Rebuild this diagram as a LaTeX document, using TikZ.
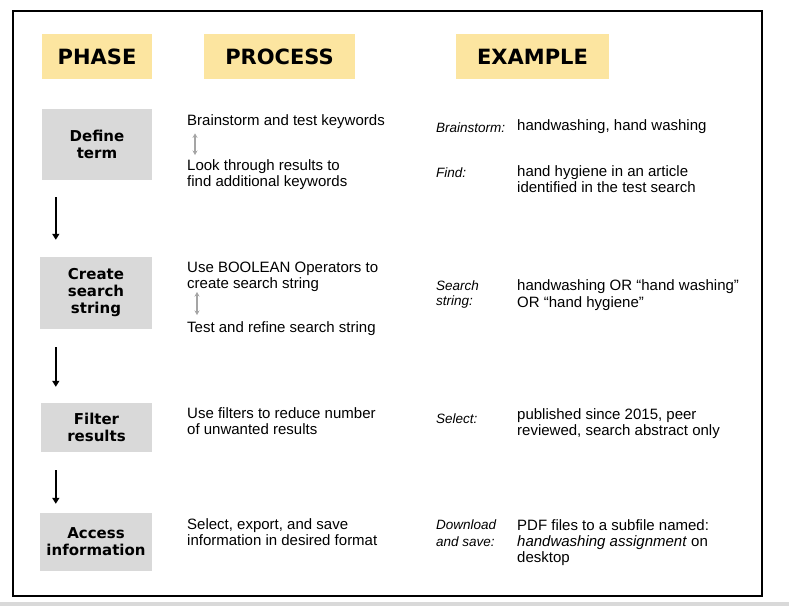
\documentclass[tikz,border=0pt]{standalone}
\usepackage{fontspec}
\setmainfont{Liberation Sans}
\newfontfamily\heavyfont{DejaVu Sans}
\usetikzlibrary{arrows.meta}
\definecolor{hdryellow}{RGB}{252,229,160}
\definecolor{boxgray}{RGB}{217,217,217}
\definecolor{arrgray}{RGB}{165,165,165}
\begin{document}
\begin{tikzpicture}[x=1pt,y=-1pt,
  hdr/.style={fill=hdryellow, inner sep=0pt, font=\heavyfont\bfseries\fontsize{21}{24}\selectfont, minimum height=45pt},
  phasebox/.style={fill=boxgray, inner sep=0pt, align=center, font=\heavyfont\bfseries\fontsize{15}{17}\selectfont},
  txt/.style={anchor=north west, inner sep=0pt, align=left, font=\fontsize{15}{16}\selectfont},
  lbl/.style={anchor=north west, inner sep=0pt, align=left, font=\itshape\fontsize{13.5}{16}\selectfont},
  flowarrow/.style={line width=1.8pt, -{Triangle[length=6pt,width=7pt]}},
  swaparrow/.style={line width=1.6pt, arrgray, {Stealth[length=4.5pt,width=5pt]}-{Stealth[length=4.5pt,width=5pt]}}
]
\useasboundingbox (0,0) rectangle (789,606);
\fill[white] (0,0) rectangle (789,606);
\fill[black!15] (0,602) rectangle (789,606);
\draw[line width=2pt] (13,11) rectangle (762,596);

% headers
\node[hdr, minimum width=110pt] (phase) at (97,56.5) {PHASE};
\node[hdr, minimum width=151pt] (process) at (279.5,56.5) {PROCESS};
\node[hdr, minimum width=153pt] (example) at (532.5,56.5) {EXAMPLE};

% phase boxes
\node[phasebox, minimum width=110pt, minimum height=71pt] (def) at (97,144.5) {Define\\term};
\node[phasebox, minimum width=112pt, minimum height=72pt] (cre) at (96,293) {Create\\search\\string};
\node[phasebox, minimum width=111pt, minimum height=49pt] (fil) at (96.5,427.5) {Filter\\results};
\node[phasebox, minimum width=112pt, minimum height=58pt] (acc) at (96,542) {Access\\information};

\draw[flowarrow] ([xshift=14pt,yshift=-17pt]def.south west) -- ([xshift=16pt,yshift=17pt]cre.north west);
\draw[flowarrow] ([xshift=16pt,yshift=-18pt]cre.south west) -- ([xshift=15pt,yshift=16pt]fil.north west);
\draw[flowarrow] ([xshift=15pt,yshift=-18pt]fil.south west) -- ([xshift=16pt,yshift=9pt]acc.north west);

% process texts
\node[txt] (p1a) at (187,113.8) {\strut Brainstorm and test keywords};
\node[txt] (p1b) at (187,158.8) {\strut Look through results to\\find additional keywords};
\node[txt] (p2a) at (187,260.8) {\strut Use BOOLEAN Operators to\\create search string};
\node[txt] (p2b) at (187,320.8) {\strut Test and refine search string};
\node[txt] (p3) at (187,406.8) {\strut Use filters to reduce number\\of unwanted results};
\node[txt] (p4) at (187,517.8) {\strut Select, export, and save\\information in desired format};

\draw[swaparrow] ([xshift=8pt,yshift=-3.2pt]p1a.south west) -- ([xshift=8pt,yshift=3.8pt]p1b.north west);
\draw[swaparrow] ([xshift=10pt,yshift=-0.5pt]p2a.south west) -- ([xshift=10pt,yshift=5.8pt]p2b.north west);

% example labels
\node[lbl] (l1) at (436,120.8) {\strut Brainstorm:};
\node[lbl] (l2) at (436,165.8) {\strut Find:};
\node[lbl, font=\itshape\fontsize{13.5}{15}\selectfont] (l3) at (436,279.8) {\strut Search\\string:};
\node[lbl] (l4) at (436,411.8) {\strut Select:};
\node[lbl, font=\itshape\fontsize{13.5}{17}\selectfont] (l5) at (436,517.8) {\strut Download\\and save:};

% example texts
\node[txt] (e1) at (517,118.8) {\strut handwashing, hand washing};
\node[txt] (e2) at (517,164.8) {\strut hand hygiene in an article\\identified in the test search};
\node[txt, font=\fontsize{15}{15}\selectfont] (e3) at (517,279.8) {\strut handwashing OR “hand washing”\\OR “hand hygiene”};
\node[txt] (e4) at (517,407.8) {\strut published since 2015, peer\\reviewed, search abstract only};
\node[txt] (e5) at (517,518.8) {\strut PDF files to a subfile named:\\\textit{handwashing assignment} on\\desktop};
\end{tikzpicture}
\end{document}
